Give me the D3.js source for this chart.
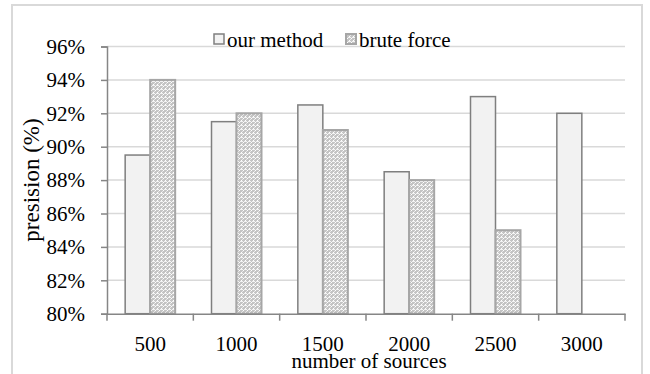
<!DOCTYPE html>
<html>
<head>
<meta charset="utf-8">
<script src="https://cdn.jsdelivr.net/npm/d3@7"></script>
<style>
  body { margin: 0; background: #fff; }
</style>
</head>
<body>
<div id="chart"></div>
<script>
const categories = ["500", "1000", "1500", "2000", "2500", "3000"];
const seriesNames = ["our method", "brute force"];
const ourMethod = [89.5, 91.5, 92.5, 88.5, 93, 92];
const bruteForce = [94, 92, 91, 88, 85, null];
const yTicks = [80, 82, 84, 86, 88, 90, 92, 94, 96];

const serif = '"Liberation Serif"';
const width = 650, height = 374;
const margin = { left: 107, right: 25, top: 46.5, bottom: 60.3 };

const svg = d3.select("#chart").append("svg")
    .attr("width", width)
    .attr("height", height);

// dotted fill for brute force
const defs = svg.append("defs");
const pat = defs.append("pattern")
    .attr("id", "dots")
    .attr("patternUnits", "userSpaceOnUse")
    .attr("width", 4).attr("height", 4);
pat.append("rect").attr("width", 4).attr("height", 4).attr("fill", "#c4c4c4");
pat.append("rect").attr("x", 1).attr("y", 0).attr("width", 1).attr("height", 1).attr("fill", "#fff");
pat.append("rect").attr("x", 0).attr("y", 1).attr("width", 3).attr("height", 1).attr("fill", "#f2f2f2");
pat.append("rect").attr("x", 3).attr("y", 2).attr("width", 1).attr("height", 1).attr("fill", "#fff");
pat.append("rect").attr("x", 2).attr("y", 3).attr("width", 1).attr("height", 1).attr("fill", "#e8e8e8");

// outer chart border
svg.append("rect")
    .attr("x", 12).attr("y", 5)
    .attr("width", 630).attr("height", 380)
    .attr("fill", "none")
    .attr("stroke", "#d9d9d9")
    .attr("stroke-width", 2);

const x = d3.scaleBand()
    .domain(categories)
    .range([margin.left, width - margin.right]);

const y = d3.scaleLinear()
    .domain([80, 96])
    .range([height - margin.bottom, margin.top]);

// gridlines
svg.append("g")
    .selectAll("line")
    .data(yTicks.slice(1))
    .join("line")
    .attr("x1", margin.left).attr("x2", width - margin.right)
    .attr("y1", d => y(d)).attr("y2", d => y(d))
    .attr("stroke", "#d9d9d9")
    .attr("stroke-width", 1.5);

// bars
const barW = 25;
const series = [
    { name: seriesNames[0], values: ourMethod, fill: "#f2f2f2", stroke: "#7f7f7f", sw: 1.5, off: -barW },
    { name: seriesNames[1], values: bruteForce, fill: "url(#dots)", stroke: "#a6a6a6", sw: 2, off: 0 }
];

series.forEach(s => {
    svg.append("g")
        .selectAll("rect")
        .data(categories.map((c, i) => ({ c, v: s.values[i] })).filter(d => d.v != null))
        .join("rect")
        .attr("x", d => x(d.c) + x.bandwidth() / 2 + s.off)
        .attr("y", d => y(d.v))
        .attr("width", barW)
        .attr("height", d => y(80) - y(d.v))
        .attr("fill", s.fill)
        .attr("stroke", s.stroke)
        .attr("stroke-width", s.sw);
});

// y axis
const yAxis = svg.append("g")
    .attr("transform", `translate(${margin.left},0)`)
    .call(d3.axisLeft(y).tickValues(yTicks).tickSize(6).tickPadding(16)
        .tickFormat(d => d + "%"));
yAxis.select(".domain").attr("stroke", "#868686").attr("stroke-width", 1.5);
yAxis.selectAll(".tick line").attr("stroke", "#868686").attr("stroke-width", 1.5);
yAxis.selectAll("text")
    .style("font-family", serif)
    .style("font-size", "21px")
    .attr("fill", "#000");

// x axis
const xAxis = svg.append("g")
    .attr("transform", `translate(0,${y(80)})`)
    .call(d3.axisBottom(x).tickSize(0).tickPadding(22));
xAxis.select(".domain").attr("stroke", "#868686").attr("stroke-width", 1.5);
xAxis.selectAll("text")
    .style("font-family", serif)
    .style("font-size", "21px")
    .attr("fill", "#000");
// boundary tick marks between categories
xAxis.selectAll("line.sep")
    .data(categories.concat(["end"]))
    .join("line")
    .attr("class", "sep")
    .attr("x1", (d, i) => margin.left + i * x.bandwidth())
    .attr("x2", (d, i) => margin.left + i * x.bandwidth())
    .attr("y1", 0).attr("y2", 7)
    .attr("stroke", "#868686")
    .attr("stroke-width", 1.5);

// axis titles
svg.append("text")
    .attr("x", 369)
    .attr("y", 368)
    .attr("text-anchor", "middle")
    .style("font-family", serif)
    .style("font-size", "21px")
    .text("number of sources");

svg.append("text")
    .attr("transform", "translate(39,180) rotate(-90)")
    .attr("text-anchor", "middle")
    .style("font-family", serif)
    .style("font-size", "23px")
    .text("presision (%)");

// legend
const legend = svg.append("g");
const legX = [214, 346];
series.forEach((s, i) => {
    legend.append("rect")
        .attr("x", legX[i]).attr("y", 34)
        .attr("width", 10).attr("height", 10)
        .attr("fill", s.fill)
        .attr("stroke", s.stroke)
        .attr("stroke-width", s.sw);
    legend.append("text")
        .attr("x", legX[i] + 13).attr("y", 46.5)
        .style("font-family", serif)
        .style("font-size", "21px")
        .text(s.name);
});
</script>
</body>
</html>
